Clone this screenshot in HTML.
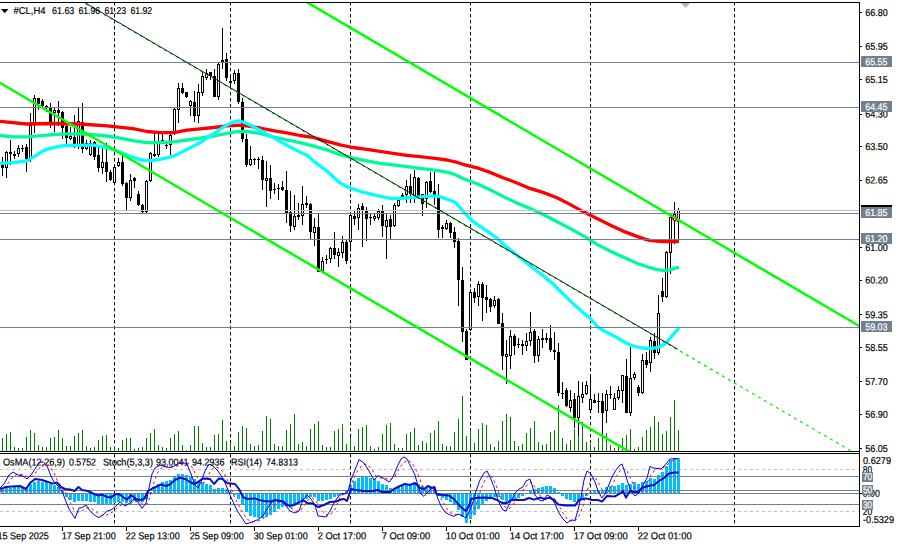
<!DOCTYPE html>
<html><head><meta charset="utf-8"><title>#CL,H4</title>
<style>html,body{margin:0;padding:0;background:#fff;overflow:hidden}svg{display:block}</style>
</head><body>
<svg width="899" height="546" viewBox="0 0 899 546" font-family="Liberation Sans, Arimo, Helvetica, Arial, sans-serif" font-size="10px" stroke-width="0.2">
<rect x="0" y="0" width="899" height="546" fill="#fff"/>
<defs><clipPath id="cm"><rect x="0" y="3" width="859" height="448"/></clipPath><clipPath id="ci"><rect x="0" y="454" width="859" height="72"/></clipPath></defs>
<g clip-path="url(#cm)">
<line x1="114.5" y1="2" x2="114.5" y2="451" stroke="#000" stroke-width="1" stroke-dasharray="3.4 2.6"/>
<line x1="230.5" y1="2" x2="230.5" y2="451" stroke="#000" stroke-width="1" stroke-dasharray="3.4 2.6"/>
<line x1="350.5" y1="2" x2="350.5" y2="451" stroke="#000" stroke-width="1" stroke-dasharray="3.4 2.6"/>
<line x1="470.5" y1="2" x2="470.5" y2="451" stroke="#000" stroke-width="1" stroke-dasharray="3.4 2.6"/>
<line x1="590.5" y1="2" x2="590.5" y2="451" stroke="#000" stroke-width="1" stroke-dasharray="3.4 2.6"/>
<line x1="734.5" y1="2" x2="734.5" y2="451" stroke="#000" stroke-width="1" stroke-dasharray="3.4 2.6"/>
<g shape-rendering="crispEdges" fill="#008000">
<rect x="2" y="438" width="1" height="13"/>
<rect x="6" y="434" width="1" height="17"/>
<rect x="10" y="432" width="1" height="19"/>
<rect x="14" y="447" width="1" height="4"/>
<rect x="18" y="448" width="1" height="3"/>
<rect x="22" y="448" width="1" height="3"/>
<rect x="26" y="437" width="1" height="14"/>
<rect x="30" y="430" width="1" height="21"/>
<rect x="34" y="433" width="1" height="18"/>
<rect x="38" y="445" width="1" height="6"/>
<rect x="42" y="447" width="1" height="4"/>
<rect x="46" y="447" width="1" height="4"/>
<rect x="50" y="438" width="1" height="13"/>
<rect x="54" y="437" width="1" height="14"/>
<rect x="58" y="430" width="1" height="21"/>
<rect x="62" y="438" width="1" height="13"/>
<rect x="66" y="446" width="1" height="5"/>
<rect x="70" y="446" width="1" height="5"/>
<rect x="74" y="436" width="1" height="15"/>
<rect x="78" y="433" width="1" height="18"/>
<rect x="82" y="430" width="1" height="21"/>
<rect x="86" y="446" width="1" height="5"/>
<rect x="90" y="448" width="1" height="3"/>
<rect x="94" y="447" width="1" height="4"/>
<rect x="98" y="440" width="1" height="11"/>
<rect x="102" y="436" width="1" height="15"/>
<rect x="106" y="435" width="1" height="16"/>
<rect x="110" y="447" width="1" height="4"/>
<rect x="114" y="446" width="1" height="5"/>
<rect x="118" y="448" width="1" height="3"/>
<rect x="122" y="440" width="1" height="11"/>
<rect x="126" y="438" width="1" height="13"/>
<rect x="130" y="438" width="1" height="13"/>
<rect x="134" y="449" width="1" height="2"/>
<rect x="138" y="448" width="1" height="3"/>
<rect x="142" y="447" width="1" height="4"/>
<rect x="146" y="438" width="1" height="13"/>
<rect x="150" y="433" width="1" height="18"/>
<rect x="154" y="429" width="1" height="22"/>
<rect x="158" y="445" width="1" height="6"/>
<rect x="162" y="447" width="1" height="4"/>
<rect x="166" y="448" width="1" height="3"/>
<rect x="170" y="438" width="1" height="13"/>
<rect x="174" y="434" width="1" height="17"/>
<rect x="178" y="431" width="1" height="20"/>
<rect x="182" y="445" width="1" height="6"/>
<rect x="186" y="450" width="1" height="1"/>
<rect x="190" y="445" width="1" height="6"/>
<rect x="194" y="426" width="1" height="25"/>
<rect x="198" y="426" width="1" height="25"/>
<rect x="202" y="443" width="1" height="8"/>
<rect x="206" y="447" width="1" height="4"/>
<rect x="210" y="447" width="1" height="4"/>
<rect x="214" y="435" width="1" height="16"/>
<rect x="218" y="434" width="1" height="17"/>
<rect x="222" y="420" width="1" height="31"/>
<rect x="226" y="441" width="1" height="10"/>
<rect x="230" y="443" width="1" height="8"/>
<rect x="234" y="446" width="1" height="5"/>
<rect x="238" y="432" width="1" height="19"/>
<rect x="242" y="426" width="1" height="25"/>
<rect x="246" y="428" width="1" height="23"/>
<rect x="250" y="444" width="1" height="7"/>
<rect x="254" y="446" width="1" height="5"/>
<rect x="258" y="445" width="1" height="6"/>
<rect x="262" y="431" width="1" height="20"/>
<rect x="266" y="416" width="1" height="35"/>
<rect x="270" y="419" width="1" height="32"/>
<rect x="274" y="444" width="1" height="7"/>
<rect x="278" y="446" width="1" height="5"/>
<rect x="282" y="446" width="1" height="5"/>
<rect x="286" y="430" width="1" height="21"/>
<rect x="290" y="424" width="1" height="27"/>
<rect x="294" y="414" width="1" height="37"/>
<rect x="298" y="444" width="1" height="7"/>
<rect x="302" y="442" width="1" height="9"/>
<rect x="306" y="446" width="1" height="5"/>
<rect x="310" y="429" width="1" height="22"/>
<rect x="314" y="424" width="1" height="27"/>
<rect x="318" y="421" width="1" height="30"/>
<rect x="322" y="445" width="1" height="6"/>
<rect x="326" y="447" width="1" height="4"/>
<rect x="330" y="447" width="1" height="4"/>
<rect x="334" y="431" width="1" height="20"/>
<rect x="338" y="429" width="1" height="22"/>
<rect x="342" y="424" width="1" height="27"/>
<rect x="346" y="444" width="1" height="7"/>
<rect x="350" y="437" width="1" height="14"/>
<rect x="354" y="446" width="1" height="5"/>
<rect x="358" y="429" width="1" height="22"/>
<rect x="362" y="427" width="1" height="24"/>
<rect x="366" y="425" width="1" height="26"/>
<rect x="370" y="446" width="1" height="5"/>
<rect x="374" y="449" width="1" height="2"/>
<rect x="378" y="447" width="1" height="4"/>
<rect x="382" y="434" width="1" height="17"/>
<rect x="386" y="425" width="1" height="26"/>
<rect x="390" y="423" width="1" height="28"/>
<rect x="394" y="444" width="1" height="7"/>
<rect x="398" y="448" width="1" height="3"/>
<rect x="402" y="448" width="1" height="3"/>
<rect x="406" y="434" width="1" height="17"/>
<rect x="410" y="432" width="1" height="19"/>
<rect x="414" y="428" width="1" height="23"/>
<rect x="418" y="445" width="1" height="6"/>
<rect x="422" y="441" width="1" height="10"/>
<rect x="426" y="443" width="1" height="8"/>
<rect x="430" y="433" width="1" height="18"/>
<rect x="434" y="430" width="1" height="21"/>
<rect x="438" y="421" width="1" height="30"/>
<rect x="442" y="444" width="1" height="7"/>
<rect x="446" y="446" width="1" height="5"/>
<rect x="450" y="446" width="1" height="5"/>
<rect x="454" y="432" width="1" height="19"/>
<rect x="458" y="419" width="1" height="32"/>
<rect x="462" y="396" width="1" height="55"/>
<rect x="466" y="436" width="1" height="15"/>
<rect x="470" y="430" width="1" height="21"/>
<rect x="474" y="443" width="1" height="8"/>
<rect x="478" y="429" width="1" height="22"/>
<rect x="482" y="423" width="1" height="28"/>
<rect x="486" y="425" width="1" height="26"/>
<rect x="490" y="444" width="1" height="7"/>
<rect x="494" y="447" width="1" height="4"/>
<rect x="498" y="441" width="1" height="10"/>
<rect x="502" y="421" width="1" height="30"/>
<rect x="506" y="414" width="1" height="37"/>
<rect x="510" y="417" width="1" height="34"/>
<rect x="514" y="441" width="1" height="10"/>
<rect x="518" y="446" width="1" height="5"/>
<rect x="522" y="444" width="1" height="7"/>
<rect x="526" y="433" width="1" height="18"/>
<rect x="530" y="428" width="1" height="23"/>
<rect x="534" y="421" width="1" height="30"/>
<rect x="538" y="442" width="1" height="9"/>
<rect x="542" y="445" width="1" height="6"/>
<rect x="546" y="444" width="1" height="7"/>
<rect x="550" y="432" width="1" height="19"/>
<rect x="554" y="430" width="1" height="21"/>
<rect x="558" y="405" width="1" height="46"/>
<rect x="562" y="438" width="1" height="13"/>
<rect x="566" y="444" width="1" height="7"/>
<rect x="570" y="440" width="1" height="11"/>
<rect x="574" y="429" width="1" height="22"/>
<rect x="578" y="421" width="1" height="30"/>
<rect x="582" y="422" width="1" height="29"/>
<rect x="586" y="442" width="1" height="9"/>
<rect x="590" y="444" width="1" height="7"/>
<rect x="594" y="447" width="1" height="4"/>
<rect x="598" y="438" width="1" height="13"/>
<rect x="602" y="425" width="1" height="26"/>
<rect x="606" y="433" width="1" height="18"/>
<rect x="610" y="445" width="1" height="6"/>
<rect x="614" y="448" width="1" height="3"/>
<rect x="618" y="447" width="1" height="4"/>
<rect x="622" y="438" width="1" height="13"/>
<rect x="626" y="435" width="1" height="16"/>
<rect x="630" y="429" width="1" height="22"/>
<rect x="634" y="449" width="1" height="2"/>
<rect x="638" y="447" width="1" height="4"/>
<rect x="642" y="437" width="1" height="14"/>
<rect x="646" y="430" width="1" height="21"/>
<rect x="650" y="427" width="1" height="24"/>
<rect x="654" y="416" width="1" height="35"/>
<rect x="658" y="422" width="1" height="29"/>
<rect x="662" y="434" width="1" height="17"/>
<rect x="666" y="431" width="1" height="20"/>
<rect x="670" y="417" width="1" height="34"/>
<rect x="674" y="400" width="1" height="51"/>
<rect x="678" y="430" width="1" height="21"/>
</g>
<g shape-rendering="crispEdges">
<rect x="2" y="157" width="1" height="19" fill="#000"/>
<rect x="1" y="164" width="3" height="4" fill="#000"/>
<rect x="6" y="151" width="1" height="27" fill="#000"/>
<rect x="5" y="152" width="3" height="16" fill="#000"/>
<rect x="6" y="153" width="1" height="14" fill="#fff"/>
<rect x="10" y="140" width="1" height="25" fill="#000"/>
<rect x="9" y="152" width="3" height="2" fill="#000"/>
<rect x="14" y="151" width="1" height="8" fill="#000"/>
<rect x="13" y="154" width="3" height="2" fill="#000"/>
<rect x="18" y="145" width="1" height="12" fill="#000"/>
<rect x="17" y="148" width="3" height="6" fill="#000"/>
<rect x="18" y="149" width="1" height="4" fill="#fff"/>
<rect x="22" y="145" width="1" height="7" fill="#000"/>
<rect x="21" y="148" width="3" height="1" fill="#000"/>
<rect x="26" y="144" width="1" height="28" fill="#000"/>
<rect x="25" y="147" width="3" height="12" fill="#000"/>
<rect x="30" y="113" width="1" height="49" fill="#000"/>
<rect x="29" y="125" width="3" height="34" fill="#000"/>
<rect x="30" y="126" width="1" height="32" fill="#fff"/>
<rect x="34" y="95" width="1" height="38" fill="#000"/>
<rect x="33" y="98" width="3" height="27" fill="#000"/>
<rect x="34" y="99" width="1" height="25" fill="#fff"/>
<rect x="38" y="98" width="1" height="12" fill="#000"/>
<rect x="37" y="98" width="3" height="6" fill="#000"/>
<rect x="42" y="99" width="1" height="9" fill="#000"/>
<rect x="41" y="101" width="3" height="5" fill="#000"/>
<rect x="46" y="105" width="1" height="7" fill="#000"/>
<rect x="45" y="106" width="3" height="2" fill="#000"/>
<rect x="50" y="103" width="1" height="25" fill="#000"/>
<rect x="49" y="108" width="3" height="14" fill="#000"/>
<rect x="54" y="108" width="1" height="24" fill="#000"/>
<rect x="53" y="110" width="3" height="3" fill="#000"/>
<rect x="54" y="111" width="1" height="1" fill="#fff"/>
<rect x="58" y="101" width="1" height="25" fill="#000"/>
<rect x="57" y="110" width="3" height="3" fill="#000"/>
<rect x="62" y="111" width="1" height="28" fill="#000"/>
<rect x="61" y="112" width="3" height="16" fill="#000"/>
<rect x="66" y="124" width="1" height="20" fill="#000"/>
<rect x="65" y="126" width="3" height="12" fill="#000"/>
<rect x="70" y="127" width="1" height="13" fill="#000"/>
<rect x="69" y="136" width="3" height="3" fill="#000"/>
<rect x="70" y="137" width="1" height="1" fill="#fff"/>
<rect x="74" y="115" width="1" height="33" fill="#000"/>
<rect x="73" y="137" width="3" height="10" fill="#000"/>
<rect x="78" y="108" width="1" height="41" fill="#000"/>
<rect x="77" y="121" width="3" height="26" fill="#000"/>
<rect x="78" y="122" width="1" height="24" fill="#fff"/>
<rect x="82" y="103" width="1" height="50" fill="#000"/>
<rect x="81" y="122" width="3" height="27" fill="#000"/>
<rect x="86" y="140" width="1" height="10" fill="#000"/>
<rect x="85" y="143" width="3" height="6" fill="#000"/>
<rect x="86" y="144" width="1" height="4" fill="#fff"/>
<rect x="90" y="140" width="1" height="16" fill="#000"/>
<rect x="89" y="143" width="3" height="12" fill="#000"/>
<rect x="90" y="144" width="1" height="10" fill="#fff"/>
<rect x="94" y="141" width="1" height="19" fill="#000"/>
<rect x="93" y="142" width="3" height="15" fill="#000"/>
<rect x="98" y="145" width="1" height="27" fill="#000"/>
<rect x="97" y="155" width="3" height="13" fill="#000"/>
<rect x="102" y="148" width="1" height="26" fill="#000"/>
<rect x="101" y="162" width="3" height="6" fill="#000"/>
<rect x="102" y="163" width="1" height="4" fill="#fff"/>
<rect x="106" y="143" width="1" height="39" fill="#000"/>
<rect x="105" y="162" width="3" height="10" fill="#000"/>
<rect x="110" y="170" width="1" height="11" fill="#000"/>
<rect x="109" y="172" width="3" height="8" fill="#000"/>
<rect x="114" y="164" width="1" height="20" fill="#000"/>
<rect x="113" y="167" width="3" height="16" fill="#000"/>
<rect x="114" y="168" width="1" height="14" fill="#fff"/>
<rect x="118" y="158" width="1" height="9" fill="#000"/>
<rect x="117" y="162" width="3" height="4" fill="#000"/>
<rect x="118" y="163" width="1" height="2" fill="#fff"/>
<rect x="122" y="156" width="1" height="30" fill="#000"/>
<rect x="121" y="162" width="3" height="22" fill="#000"/>
<rect x="126" y="182" width="1" height="29" fill="#000"/>
<rect x="125" y="183" width="3" height="15" fill="#000"/>
<rect x="130" y="174" width="1" height="27" fill="#000"/>
<rect x="129" y="180" width="3" height="18" fill="#000"/>
<rect x="130" y="181" width="1" height="16" fill="#fff"/>
<rect x="134" y="177" width="1" height="11" fill="#000"/>
<rect x="133" y="178" width="3" height="3" fill="#000"/>
<rect x="138" y="191" width="1" height="15" fill="#000"/>
<rect x="137" y="194" width="3" height="11" fill="#000"/>
<rect x="142" y="204" width="1" height="9" fill="#000"/>
<rect x="141" y="205" width="3" height="7" fill="#000"/>
<rect x="146" y="180" width="1" height="33" fill="#000"/>
<rect x="145" y="181" width="3" height="31" fill="#000"/>
<rect x="146" y="182" width="1" height="29" fill="#fff"/>
<rect x="150" y="152" width="1" height="30" fill="#000"/>
<rect x="149" y="153" width="3" height="28" fill="#000"/>
<rect x="150" y="154" width="1" height="26" fill="#fff"/>
<rect x="154" y="133" width="1" height="24" fill="#000"/>
<rect x="153" y="154" width="3" height="2" fill="#000"/>
<rect x="158" y="134" width="1" height="23" fill="#000"/>
<rect x="157" y="142" width="3" height="13" fill="#000"/>
<rect x="158" y="143" width="1" height="11" fill="#fff"/>
<rect x="162" y="134" width="1" height="9" fill="#000"/>
<rect x="161" y="140" width="3" height="2" fill="#000"/>
<rect x="166" y="141" width="1" height="8" fill="#000"/>
<rect x="165" y="145" width="3" height="1" fill="#000"/>
<rect x="170" y="134" width="1" height="21" fill="#000"/>
<rect x="169" y="135" width="3" height="10" fill="#000"/>
<rect x="170" y="136" width="1" height="8" fill="#fff"/>
<rect x="174" y="108" width="1" height="27" fill="#000"/>
<rect x="173" y="109" width="3" height="25" fill="#000"/>
<rect x="174" y="110" width="1" height="23" fill="#fff"/>
<rect x="178" y="83" width="1" height="40" fill="#000"/>
<rect x="177" y="88" width="3" height="22" fill="#000"/>
<rect x="178" y="89" width="1" height="20" fill="#fff"/>
<rect x="182" y="83" width="1" height="11" fill="#000"/>
<rect x="181" y="88" width="3" height="5" fill="#000"/>
<rect x="186" y="92" width="1" height="6" fill="#000"/>
<rect x="185" y="92" width="3" height="5" fill="#000"/>
<rect x="190" y="100" width="1" height="16" fill="#000"/>
<rect x="189" y="101" width="3" height="5" fill="#000"/>
<rect x="190" y="102" width="1" height="3" fill="#fff"/>
<rect x="194" y="91" width="1" height="31" fill="#000"/>
<rect x="193" y="102" width="3" height="14" fill="#000"/>
<rect x="198" y="84" width="1" height="39" fill="#000"/>
<rect x="197" y="92" width="3" height="24" fill="#000"/>
<rect x="198" y="93" width="1" height="22" fill="#fff"/>
<rect x="202" y="72" width="1" height="24" fill="#000"/>
<rect x="201" y="76" width="3" height="17" fill="#000"/>
<rect x="202" y="77" width="1" height="15" fill="#fff"/>
<rect x="206" y="69" width="1" height="11" fill="#000"/>
<rect x="205" y="73" width="3" height="5" fill="#000"/>
<rect x="206" y="74" width="1" height="3" fill="#fff"/>
<rect x="210" y="72" width="1" height="8" fill="#000"/>
<rect x="209" y="72" width="3" height="4" fill="#000"/>
<rect x="214" y="69" width="1" height="28" fill="#000"/>
<rect x="213" y="76" width="3" height="21" fill="#000"/>
<rect x="218" y="62" width="1" height="38" fill="#000"/>
<rect x="217" y="64" width="3" height="33" fill="#000"/>
<rect x="218" y="65" width="1" height="31" fill="#fff"/>
<rect x="222" y="28" width="1" height="41" fill="#000"/>
<rect x="221" y="60" width="3" height="2" fill="#000"/>
<rect x="226" y="53" width="1" height="28" fill="#000"/>
<rect x="225" y="59" width="3" height="19" fill="#000"/>
<rect x="230" y="75" width="1" height="11" fill="#000"/>
<rect x="229" y="81" width="3" height="2" fill="#000"/>
<rect x="234" y="70" width="1" height="14" fill="#000"/>
<rect x="233" y="73" width="3" height="8" fill="#000"/>
<rect x="234" y="74" width="1" height="6" fill="#fff"/>
<rect x="238" y="69" width="1" height="35" fill="#000"/>
<rect x="237" y="73" width="3" height="29" fill="#000"/>
<rect x="242" y="98" width="1" height="44" fill="#000"/>
<rect x="241" y="102" width="3" height="37" fill="#000"/>
<rect x="246" y="134" width="1" height="33" fill="#000"/>
<rect x="245" y="139" width="3" height="26" fill="#000"/>
<rect x="250" y="146" width="1" height="20" fill="#000"/>
<rect x="249" y="159" width="3" height="6" fill="#000"/>
<rect x="250" y="160" width="1" height="4" fill="#fff"/>
<rect x="254" y="158" width="1" height="7" fill="#000"/>
<rect x="253" y="159" width="3" height="1" fill="#000"/>
<rect x="258" y="157" width="1" height="12" fill="#000"/>
<rect x="257" y="159" width="3" height="1" fill="#000"/>
<rect x="262" y="156" width="1" height="34" fill="#000"/>
<rect x="261" y="160" width="3" height="20" fill="#000"/>
<rect x="266" y="161" width="1" height="46" fill="#000"/>
<rect x="265" y="178" width="3" height="3" fill="#000"/>
<rect x="266" y="179" width="1" height="1" fill="#fff"/>
<rect x="270" y="165" width="1" height="34" fill="#000"/>
<rect x="269" y="178" width="3" height="13" fill="#000"/>
<rect x="274" y="183" width="1" height="11" fill="#000"/>
<rect x="273" y="189" width="3" height="1" fill="#000"/>
<rect x="278" y="184" width="1" height="16" fill="#000"/>
<rect x="277" y="188" width="3" height="1" fill="#000"/>
<rect x="282" y="181" width="1" height="10" fill="#000"/>
<rect x="281" y="187" width="3" height="3" fill="#000"/>
<rect x="286" y="171" width="1" height="52" fill="#000"/>
<rect x="285" y="190" width="3" height="23" fill="#000"/>
<rect x="290" y="191" width="1" height="41" fill="#000"/>
<rect x="289" y="212" width="3" height="14" fill="#000"/>
<rect x="294" y="195" width="1" height="35" fill="#000"/>
<rect x="293" y="216" width="3" height="11" fill="#000"/>
<rect x="294" y="217" width="1" height="9" fill="#fff"/>
<rect x="298" y="203" width="1" height="17" fill="#000"/>
<rect x="297" y="215" width="3" height="2" fill="#000"/>
<rect x="302" y="186" width="1" height="39" fill="#000"/>
<rect x="301" y="204" width="3" height="12" fill="#000"/>
<rect x="302" y="205" width="1" height="10" fill="#fff"/>
<rect x="306" y="196" width="1" height="12" fill="#000"/>
<rect x="305" y="203" width="3" height="2" fill="#000"/>
<rect x="310" y="203" width="1" height="36" fill="#000"/>
<rect x="309" y="204" width="3" height="28" fill="#000"/>
<rect x="314" y="218" width="1" height="28" fill="#000"/>
<rect x="313" y="227" width="3" height="6" fill="#000"/>
<rect x="314" y="228" width="1" height="4" fill="#fff"/>
<rect x="318" y="213" width="1" height="59" fill="#000"/>
<rect x="317" y="227" width="3" height="45" fill="#000"/>
<rect x="322" y="257" width="1" height="15" fill="#000"/>
<rect x="321" y="261" width="3" height="10" fill="#000"/>
<rect x="322" y="262" width="1" height="8" fill="#fff"/>
<rect x="326" y="255" width="1" height="9" fill="#000"/>
<rect x="325" y="259" width="3" height="1" fill="#000"/>
<rect x="330" y="247" width="1" height="16" fill="#000"/>
<rect x="329" y="248" width="3" height="11" fill="#000"/>
<rect x="330" y="249" width="1" height="9" fill="#fff"/>
<rect x="334" y="232" width="1" height="27" fill="#000"/>
<rect x="333" y="248" width="3" height="7" fill="#000"/>
<rect x="338" y="248" width="1" height="19" fill="#000"/>
<rect x="337" y="252" width="3" height="4" fill="#000"/>
<rect x="338" y="253" width="1" height="2" fill="#fff"/>
<rect x="342" y="236" width="1" height="22" fill="#000"/>
<rect x="341" y="242" width="3" height="11" fill="#000"/>
<rect x="342" y="243" width="1" height="9" fill="#fff"/>
<rect x="346" y="240" width="1" height="24" fill="#000"/>
<rect x="345" y="242" width="3" height="19" fill="#000"/>
<rect x="350" y="212" width="1" height="36" fill="#000"/>
<rect x="349" y="215" width="3" height="27" fill="#000"/>
<rect x="350" y="216" width="1" height="25" fill="#fff"/>
<rect x="354" y="210" width="1" height="15" fill="#000"/>
<rect x="353" y="216" width="3" height="3" fill="#000"/>
<rect x="358" y="204" width="1" height="26" fill="#000"/>
<rect x="357" y="208" width="3" height="10" fill="#000"/>
<rect x="358" y="209" width="1" height="8" fill="#fff"/>
<rect x="362" y="203" width="1" height="44" fill="#000"/>
<rect x="361" y="206" width="3" height="5" fill="#000"/>
<rect x="366" y="207" width="1" height="34" fill="#000"/>
<rect x="365" y="211" width="3" height="8" fill="#000"/>
<rect x="370" y="213" width="1" height="12" fill="#000"/>
<rect x="369" y="217" width="3" height="1" fill="#000"/>
<rect x="374" y="214" width="1" height="7" fill="#000"/>
<rect x="373" y="216" width="3" height="3" fill="#000"/>
<rect x="374" y="217" width="1" height="1" fill="#fff"/>
<rect x="378" y="209" width="1" height="11" fill="#000"/>
<rect x="377" y="211" width="3" height="7" fill="#000"/>
<rect x="378" y="212" width="1" height="5" fill="#fff"/>
<rect x="382" y="205" width="1" height="32" fill="#000"/>
<rect x="381" y="210" width="3" height="16" fill="#000"/>
<rect x="386" y="213" width="1" height="46" fill="#000"/>
<rect x="385" y="220" width="3" height="7" fill="#000"/>
<rect x="386" y="221" width="1" height="5" fill="#fff"/>
<rect x="390" y="215" width="1" height="24" fill="#000"/>
<rect x="389" y="219" width="3" height="8" fill="#000"/>
<rect x="394" y="203" width="1" height="24" fill="#000"/>
<rect x="393" y="205" width="3" height="21" fill="#000"/>
<rect x="394" y="206" width="1" height="19" fill="#fff"/>
<rect x="398" y="199" width="1" height="8" fill="#000"/>
<rect x="397" y="200" width="3" height="6" fill="#000"/>
<rect x="398" y="201" width="1" height="4" fill="#fff"/>
<rect x="402" y="193" width="1" height="4" fill="#000"/>
<rect x="401" y="195" width="3" height="2" fill="#000"/>
<rect x="406" y="180" width="1" height="23" fill="#000"/>
<rect x="405" y="186" width="3" height="9" fill="#000"/>
<rect x="406" y="187" width="1" height="7" fill="#fff"/>
<rect x="410" y="174" width="1" height="29" fill="#000"/>
<rect x="409" y="186" width="3" height="8" fill="#000"/>
<rect x="414" y="170" width="1" height="33" fill="#000"/>
<rect x="413" y="177" width="3" height="19" fill="#000"/>
<rect x="414" y="178" width="1" height="17" fill="#fff"/>
<rect x="418" y="177" width="1" height="19" fill="#000"/>
<rect x="417" y="178" width="3" height="18" fill="#000"/>
<rect x="422" y="194" width="1" height="22" fill="#000"/>
<rect x="421" y="194" width="3" height="10" fill="#000"/>
<rect x="426" y="181" width="1" height="27" fill="#000"/>
<rect x="425" y="182" width="3" height="17" fill="#000"/>
<rect x="426" y="183" width="1" height="15" fill="#fff"/>
<rect x="430" y="172" width="1" height="21" fill="#000"/>
<rect x="429" y="181" width="3" height="11" fill="#000"/>
<rect x="434" y="172" width="1" height="33" fill="#000"/>
<rect x="433" y="191" width="3" height="4" fill="#000"/>
<rect x="438" y="184" width="1" height="54" fill="#000"/>
<rect x="437" y="196" width="3" height="34" fill="#000"/>
<rect x="442" y="225" width="1" height="13" fill="#000"/>
<rect x="441" y="227" width="3" height="2" fill="#000"/>
<rect x="446" y="220" width="1" height="10" fill="#000"/>
<rect x="445" y="223" width="3" height="6" fill="#000"/>
<rect x="446" y="224" width="1" height="4" fill="#fff"/>
<rect x="450" y="222" width="1" height="16" fill="#000"/>
<rect x="449" y="223" width="3" height="10" fill="#000"/>
<rect x="454" y="227" width="1" height="21" fill="#000"/>
<rect x="453" y="232" width="3" height="10" fill="#000"/>
<rect x="458" y="238" width="1" height="68" fill="#000"/>
<rect x="457" y="241" width="3" height="39" fill="#000"/>
<rect x="462" y="267" width="1" height="75" fill="#000"/>
<rect x="461" y="280" width="3" height="52" fill="#000"/>
<rect x="466" y="329" width="1" height="31" fill="#000"/>
<rect x="465" y="331" width="3" height="29" fill="#000"/>
<rect x="470" y="289" width="1" height="42" fill="#000"/>
<rect x="469" y="292" width="3" height="38" fill="#000"/>
<rect x="470" y="293" width="1" height="36" fill="#fff"/>
<rect x="474" y="288" width="1" height="15" fill="#000"/>
<rect x="473" y="292" width="3" height="6" fill="#000"/>
<rect x="478" y="281" width="1" height="25" fill="#000"/>
<rect x="477" y="284" width="3" height="13" fill="#000"/>
<rect x="478" y="285" width="1" height="11" fill="#fff"/>
<rect x="482" y="282" width="1" height="39" fill="#000"/>
<rect x="481" y="284" width="3" height="14" fill="#000"/>
<rect x="486" y="285" width="1" height="28" fill="#000"/>
<rect x="485" y="297" width="3" height="3" fill="#000"/>
<rect x="490" y="298" width="1" height="14" fill="#000"/>
<rect x="489" y="299" width="3" height="8" fill="#000"/>
<rect x="494" y="296" width="1" height="12" fill="#000"/>
<rect x="493" y="300" width="3" height="6" fill="#000"/>
<rect x="494" y="301" width="1" height="4" fill="#fff"/>
<rect x="498" y="298" width="1" height="26" fill="#000"/>
<rect x="497" y="299" width="3" height="25" fill="#000"/>
<rect x="502" y="313" width="1" height="57" fill="#000"/>
<rect x="501" y="323" width="3" height="33" fill="#000"/>
<rect x="506" y="340" width="1" height="44" fill="#000"/>
<rect x="505" y="354" width="3" height="3" fill="#000"/>
<rect x="506" y="355" width="1" height="1" fill="#fff"/>
<rect x="510" y="330" width="1" height="39" fill="#000"/>
<rect x="509" y="336" width="3" height="20" fill="#000"/>
<rect x="510" y="337" width="1" height="18" fill="#fff"/>
<rect x="514" y="334" width="1" height="21" fill="#000"/>
<rect x="513" y="336" width="3" height="10" fill="#000"/>
<rect x="518" y="338" width="1" height="10" fill="#000"/>
<rect x="517" y="344" width="3" height="1" fill="#000"/>
<rect x="522" y="340" width="1" height="15" fill="#000"/>
<rect x="521" y="344" width="3" height="2" fill="#000"/>
<rect x="526" y="333" width="1" height="18" fill="#000"/>
<rect x="525" y="341" width="3" height="5" fill="#000"/>
<rect x="526" y="342" width="1" height="3" fill="#fff"/>
<rect x="530" y="312" width="1" height="34" fill="#000"/>
<rect x="529" y="332" width="3" height="9" fill="#000"/>
<rect x="530" y="333" width="1" height="7" fill="#fff"/>
<rect x="534" y="329" width="1" height="34" fill="#000"/>
<rect x="533" y="331" width="3" height="25" fill="#000"/>
<rect x="538" y="336" width="1" height="26" fill="#000"/>
<rect x="537" y="339" width="3" height="17" fill="#000"/>
<rect x="538" y="340" width="1" height="15" fill="#fff"/>
<rect x="542" y="329" width="1" height="19" fill="#000"/>
<rect x="541" y="338" width="3" height="2" fill="#000"/>
<rect x="546" y="333" width="1" height="10" fill="#000"/>
<rect x="545" y="338" width="3" height="2" fill="#000"/>
<rect x="550" y="325" width="1" height="27" fill="#000"/>
<rect x="549" y="338" width="3" height="12" fill="#000"/>
<rect x="554" y="332" width="1" height="28" fill="#000"/>
<rect x="553" y="350" width="3" height="2" fill="#000"/>
<rect x="558" y="343" width="1" height="53" fill="#000"/>
<rect x="557" y="352" width="3" height="41" fill="#000"/>
<rect x="562" y="382" width="1" height="17" fill="#000"/>
<rect x="561" y="393" width="3" height="1" fill="#000"/>
<rect x="566" y="388" width="1" height="19" fill="#000"/>
<rect x="565" y="390" width="3" height="16" fill="#000"/>
<rect x="570" y="390" width="1" height="22" fill="#000"/>
<rect x="569" y="400" width="3" height="8" fill="#000"/>
<rect x="570" y="401" width="1" height="6" fill="#fff"/>
<rect x="574" y="393" width="1" height="35" fill="#000"/>
<rect x="573" y="399" width="3" height="19" fill="#000"/>
<rect x="578" y="381" width="1" height="55" fill="#000"/>
<rect x="577" y="396" width="3" height="22" fill="#000"/>
<rect x="578" y="397" width="1" height="20" fill="#fff"/>
<rect x="582" y="382" width="1" height="21" fill="#000"/>
<rect x="581" y="394" width="3" height="4" fill="#000"/>
<rect x="582" y="395" width="1" height="2" fill="#fff"/>
<rect x="586" y="381" width="1" height="14" fill="#000"/>
<rect x="585" y="385" width="3" height="9" fill="#000"/>
<rect x="586" y="386" width="1" height="7" fill="#fff"/>
<rect x="590" y="374" width="1" height="38" fill="#000"/>
<rect x="589" y="399" width="3" height="11" fill="#000"/>
<rect x="590" y="400" width="1" height="9" fill="#fff"/>
<rect x="594" y="394" width="1" height="9" fill="#000"/>
<rect x="593" y="400" width="3" height="3" fill="#000"/>
<rect x="598" y="393" width="1" height="20" fill="#000"/>
<rect x="597" y="401" width="3" height="1" fill="#000"/>
<rect x="602" y="393" width="1" height="41" fill="#000"/>
<rect x="601" y="401" width="3" height="12" fill="#000"/>
<rect x="606" y="390" width="1" height="33" fill="#000"/>
<rect x="605" y="394" width="3" height="17" fill="#000"/>
<rect x="606" y="395" width="1" height="15" fill="#fff"/>
<rect x="610" y="386" width="1" height="13" fill="#000"/>
<rect x="609" y="394" width="3" height="1" fill="#000"/>
<rect x="614" y="393" width="1" height="17" fill="#000"/>
<rect x="613" y="398" width="3" height="12" fill="#000"/>
<rect x="614" y="399" width="1" height="10" fill="#fff"/>
<rect x="618" y="386" width="1" height="14" fill="#000"/>
<rect x="617" y="390" width="3" height="8" fill="#000"/>
<rect x="618" y="391" width="1" height="6" fill="#fff"/>
<rect x="622" y="375" width="1" height="28" fill="#000"/>
<rect x="621" y="375" width="3" height="16" fill="#000"/>
<rect x="622" y="376" width="1" height="14" fill="#fff"/>
<rect x="626" y="359" width="1" height="54" fill="#000"/>
<rect x="625" y="376" width="3" height="37" fill="#000"/>
<rect x="630" y="347" width="1" height="69" fill="#000"/>
<rect x="629" y="378" width="3" height="35" fill="#000"/>
<rect x="630" y="379" width="1" height="33" fill="#fff"/>
<rect x="634" y="372" width="1" height="8" fill="#000"/>
<rect x="633" y="374" width="3" height="4" fill="#000"/>
<rect x="634" y="375" width="1" height="2" fill="#fff"/>
<rect x="638" y="385" width="1" height="11" fill="#000"/>
<rect x="637" y="387" width="3" height="6" fill="#000"/>
<rect x="642" y="354" width="1" height="40" fill="#000"/>
<rect x="641" y="360" width="3" height="33" fill="#000"/>
<rect x="642" y="361" width="1" height="31" fill="#fff"/>
<rect x="646" y="352" width="1" height="16" fill="#000"/>
<rect x="645" y="360" width="3" height="5" fill="#000"/>
<rect x="650" y="337" width="1" height="35" fill="#000"/>
<rect x="649" y="340" width="3" height="23" fill="#000"/>
<rect x="650" y="341" width="1" height="21" fill="#fff"/>
<rect x="654" y="333" width="1" height="26" fill="#000"/>
<rect x="653" y="341" width="3" height="12" fill="#000"/>
<rect x="658" y="295" width="1" height="60" fill="#000"/>
<rect x="657" y="313" width="3" height="40" fill="#000"/>
<rect x="658" y="314" width="1" height="38" fill="#fff"/>
<rect x="662" y="278" width="1" height="24" fill="#000"/>
<rect x="661" y="291" width="3" height="6" fill="#000"/>
<rect x="666" y="251" width="1" height="47" fill="#000"/>
<rect x="665" y="252" width="3" height="45" fill="#000"/>
<rect x="666" y="253" width="1" height="43" fill="#fff"/>
<rect x="670" y="216" width="1" height="58" fill="#000"/>
<rect x="669" y="217" width="3" height="36" fill="#000"/>
<rect x="670" y="218" width="1" height="34" fill="#fff"/>
<rect x="674" y="202" width="1" height="42" fill="#000"/>
<rect x="673" y="214" width="3" height="7" fill="#000"/>
<rect x="674" y="215" width="1" height="5" fill="#fff"/>
<rect x="678" y="208" width="1" height="31" fill="#000"/>
<rect x="677" y="210" width="3" height="12" fill="#000"/>
<rect x="678" y="211" width="1" height="10" fill="#fff"/>
</g>
<polyline points="0.0,135.5 13.0,136.8 27.0,136.8 53.0,134.7 67.0,133.9 80.0,133.9 93.0,134.7 107.0,136.0 120.0,138.2 133.0,140.6 147.0,142.7 160.0,142.7 174.0,141.9 187.0,140.0 200.0,138.2 214.0,136.0 227.0,133.4 235.0,131.8 240.0,131.5 247.0,131.5 260.0,133.4 273.0,136.8 287.0,140.0 300.0,142.7 313.0,145.9 327.0,149.9 340.0,154.7 353.0,158.2 367.0,160.9 380.0,163.3 393.0,164.9 407.0,166.7 420.0,168.3 433.0,169.9 447.0,172.1 455.0,174.5 463.0,178.5 477.0,183.8 490.0,189.7 503.0,196.4 517.0,203.1 530.0,208.4 543.0,214.3 557.0,221.7 570.0,228.4 583.0,235.6 590.0,239.9 597.0,244.4 610.0,251.0 623.0,257.0 637.0,263.2 650.0,267.7 657.0,269.6 663.0,270.4 670.0,269.8 679.0,267.2" fill="none" stroke="#00fa9a" stroke-width="3.3" stroke-linejoin="round" stroke-linecap="butt"/>
<polyline points="0.0,121.4 26.7,124.0 53.0,123.5 80.0,124.0 107.0,125.9 133.0,128.6 147.0,131.5 160.0,132.6 174.0,132.6 187.0,130.2 200.0,128.8 214.0,127.5 227.0,125.9 240.0,125.2 247.0,125.9 260.0,128.0 273.0,130.7 287.0,132.8 300.0,135.5 313.0,137.4 327.0,141.4 340.0,144.8 353.0,147.5 367.0,149.4 380.0,151.3 393.0,153.4 407.0,155.3 420.0,156.6 433.0,158.2 447.0,160.0 455.0,161.8 463.0,164.3 477.0,167.8 490.0,172.4 503.0,177.7 517.0,183.0 530.0,188.4 543.0,192.4 557.0,197.7 570.0,204.4 583.0,211.6 597.0,218.5 610.0,224.9 623.0,231.1 637.0,236.4 645.0,239.1 650.0,240.4 657.0,241.2 663.0,241.5 679.0,241.5" fill="none" stroke="#ff0000" stroke-width="3.3" stroke-linejoin="round" stroke-linecap="butt"/>
<polyline points="0.0,163.3 13.0,162.7 27.0,160.9 35.0,156.2 43.0,151.0 47.0,149.4 53.0,147.6 62.0,145.8 67.0,145.5 80.0,145.4 93.0,144.8 107.0,148.0 120.0,152.0 133.0,157.4 144.0,160.6 152.0,160.6 160.0,159.3 174.0,156.0 187.0,149.4 200.0,142.7 214.0,133.4 222.0,128.0 228.0,124.6 234.0,121.8 239.0,120.8 247.0,123.5 260.0,130.2 273.0,137.4 287.0,145.4 300.0,152.1 307.0,155.3 313.0,160.6 327.0,171.3 340.0,183.0 349.0,187.6 360.0,191.3 371.0,194.1 380.5,196.4 390.0,198.3 399.0,198.5 410.0,197.6 421.0,196.8 432.0,195.8 440.0,196.7 449.0,199.8 455.0,202.2 460.0,207.6 464.6,213.1 470.8,219.3 477.0,224.4 483.0,228.4 490.0,233.0 497.0,238.2 503.0,243.8 510.0,249.6 517.0,255.3 530.0,265.5 543.0,275.6 554.0,284.6 557.0,288.0 570.0,300.6 583.0,312.6 590.0,318.0 597.0,326.3 603.0,330.4 610.0,334.0 617.0,337.6 625.0,342.6 633.0,346.0 642.0,348.0 650.0,348.5 658.0,347.6 663.0,345.1 667.0,341.8 672.0,335.9 679.0,328.0" fill="none" stroke="#00ffff" stroke-width="3.3" stroke-linejoin="round" stroke-linecap="butt"/>
<g shape-rendering="crispEdges">
<rect x="0" y="210" width="860" height="1" fill="#c0c0c0"/>
<rect x="0" y="62" width="860" height="1" fill="#708090"/>
<rect x="0" y="107" width="860" height="1" fill="#708090"/>
<rect x="0" y="213" width="860" height="1" fill="#708090"/>
<rect x="0" y="239" width="860" height="1" fill="#708090"/>
<rect x="0" y="327" width="860" height="1" fill="#708090"/>
</g>
<line x1="300" y1="-1.81" x2="862" y2="327.64" stroke="#00ff00" stroke-width="2.5"/>
<line x1="-5" y1="79.91" x2="640" y2="458.01" stroke="#00ff00" stroke-width="2.5"/>
<line x1="80" y1="0.39" x2="860" y2="456.30" stroke="#00ee00" stroke-width="1.25" stroke-dasharray="3 3.95"/>
<line x1="80" y1="-0.11" x2="677.8" y2="349.30" stroke="#000" stroke-width="0.9"/>
<path d="M671.5 214.5 L673 220.5 L676 221.2 L677.5 215" fill="none" stroke="#ff2020" stroke-width="1"/>
</g>
<g shape-rendering="crispEdges" fill="#000">
<rect x="0" y="2" width="860" height="1"/>
<rect x="859" y="2" width="1" height="525"/>
<rect x="0" y="451" width="860" height="1"/>
<rect x="0" y="453" width="860" height="1"/>
<rect x="0" y="526" width="860" height="1"/>
</g>
<path d="M681 3 L690 3 L685.5 8 Z" fill="#b4b4b4"/>
<path d="M1 9 L8.4 9 L4.7 13.2 Z" fill="#000"/>
<text x="13.6" y="14" transform="rotate(0.05 13.6 14)" textLength="31.8" lengthAdjust="spacingAndGlyphs" fill="#000" stroke="#000">#CL,H4</text>
<text x="52" y="14" transform="rotate(0.05 52 14)" textLength="22.3" lengthAdjust="spacingAndGlyphs" fill="#000" stroke="#000">61.63</text>
<text x="78.4" y="14" transform="rotate(0.05 78.4 14)" textLength="21.8" lengthAdjust="spacingAndGlyphs" fill="#000" stroke="#000">61.96</text>
<text x="104.5" y="14" transform="rotate(0.05 104.5 14)" textLength="21.7" lengthAdjust="spacingAndGlyphs" fill="#000" stroke="#000">61.23</text>
<text x="130.4" y="14" transform="rotate(0.05 130.4 14)" textLength="21.8" lengthAdjust="spacingAndGlyphs" fill="#000" stroke="#000">61.92</text>
<g shape-rendering="crispEdges" fill="#000">
<rect x="860" y="12" width="2" height="1"/>
<rect x="860" y="46" width="2" height="1"/>
<rect x="860" y="79" width="2" height="1"/>
<rect x="860" y="114" width="2" height="1"/>
<rect x="860" y="146" width="2" height="1"/>
<rect x="860" y="180" width="2" height="1"/>
<rect x="860" y="247" width="2" height="1"/>
<rect x="860" y="280" width="2" height="1"/>
<rect x="860" y="314" width="2" height="1"/>
<rect x="860" y="347" width="2" height="1"/>
<rect x="860" y="381" width="2" height="1"/>
<rect x="860" y="414" width="2" height="1"/>
<rect x="860" y="448" width="2" height="1"/>
</g>
<text x="865.2" y="16.0" transform="rotate(0.05 865.2 16.0)" textLength="22.6" lengthAdjust="spacingAndGlyphs" fill="#000" stroke="#000">66.80</text>
<text x="865.2" y="49.8" transform="rotate(0.05 865.2 49.8)" textLength="22.6" lengthAdjust="spacingAndGlyphs" fill="#000" stroke="#000">65.95</text>
<text x="865.2" y="83.0" transform="rotate(0.05 865.2 83.0)" textLength="22.6" lengthAdjust="spacingAndGlyphs" fill="#000" stroke="#000">65.15</text>
<text x="865.2" y="117.6" transform="rotate(0.05 865.2 117.6)" textLength="22.6" lengthAdjust="spacingAndGlyphs" fill="#000" stroke="#000">64.30</text>
<text x="865.2" y="150.1" transform="rotate(0.05 865.2 150.1)" textLength="22.6" lengthAdjust="spacingAndGlyphs" fill="#000" stroke="#000">63.50</text>
<text x="865.2" y="183.5" transform="rotate(0.05 865.2 183.5)" textLength="22.6" lengthAdjust="spacingAndGlyphs" fill="#000" stroke="#000">62.65</text>
<text x="865.2" y="250.9" transform="rotate(0.05 865.2 250.9)" textLength="22.6" lengthAdjust="spacingAndGlyphs" fill="#000" stroke="#000">61.00</text>
<text x="865.2" y="283.5" transform="rotate(0.05 865.2 283.5)" textLength="22.6" lengthAdjust="spacingAndGlyphs" fill="#000" stroke="#000">60.20</text>
<text x="865.2" y="318.2" transform="rotate(0.05 865.2 318.2)" textLength="22.6" lengthAdjust="spacingAndGlyphs" fill="#000" stroke="#000">59.35</text>
<text x="865.2" y="351.1" transform="rotate(0.05 865.2 351.1)" textLength="22.6" lengthAdjust="spacingAndGlyphs" fill="#000" stroke="#000">58.55</text>
<text x="865.2" y="384.9" transform="rotate(0.05 865.2 384.9)" textLength="22.6" lengthAdjust="spacingAndGlyphs" fill="#000" stroke="#000">57.70</text>
<text x="865.2" y="417.7" transform="rotate(0.05 865.2 417.7)" textLength="22.6" lengthAdjust="spacingAndGlyphs" fill="#000" stroke="#000">56.90</text>
<text x="865.2" y="451.9" transform="rotate(0.05 865.2 451.9)" textLength="22.6" lengthAdjust="spacingAndGlyphs" fill="#000" stroke="#000">56.05</text>
<rect x="861" y="205" width="31" height="6" fill="#000"/>
<rect x="861" y="56" width="31" height="11" fill="#708090" shape-rendering="crispEdges"/>
<text x="865.2" y="65.3" transform="rotate(0.05 865.2 65.3)" textLength="22.3" lengthAdjust="spacingAndGlyphs" fill="#fff" stroke="#fff">65.55</text>
<rect x="861" y="101" width="31" height="11" fill="#708090" shape-rendering="crispEdges"/>
<text x="865.2" y="110.3" transform="rotate(0.05 865.2 110.3)" textLength="22.3" lengthAdjust="spacingAndGlyphs" fill="#fff" stroke="#fff">64.45</text>
<rect x="861" y="207" width="31" height="11" fill="#708090" shape-rendering="crispEdges"/>
<text x="865.2" y="216.10000000000002" transform="rotate(0.05 865.2 216.10000000000002)" textLength="22.3" lengthAdjust="spacingAndGlyphs" fill="#fff" stroke="#fff">61.85</text>
<rect x="861" y="233" width="31" height="11" fill="#708090" shape-rendering="crispEdges"/>
<text x="865.2" y="242.10000000000002" transform="rotate(0.05 865.2 242.10000000000002)" textLength="22.3" lengthAdjust="spacingAndGlyphs" fill="#fff" stroke="#fff">61.20</text>
<rect x="861" y="321" width="31" height="11" fill="#708090" shape-rendering="crispEdges"/>
<text x="865.2" y="330.3" transform="rotate(0.05 865.2 330.3)" textLength="22.3" lengthAdjust="spacingAndGlyphs" fill="#fff" stroke="#fff">59.03</text>
<text x="3" y="465.5" transform="rotate(0.05 3 465.5)" textLength="62" lengthAdjust="spacingAndGlyphs" fill="#000" stroke="#000">OsMA(12,26,9)</text>
<text x="69" y="465.5" transform="rotate(0.05 69 465.5)" textLength="27" lengthAdjust="spacingAndGlyphs" fill="#000" stroke="#000">0.5752</text>
<text x="103" y="465.5" transform="rotate(0.05 103 465.5)" textLength="50" lengthAdjust="spacingAndGlyphs" fill="#000" stroke="#000">Stoch(5,3,3)</text>
<text x="156" y="465.5" transform="rotate(0.05 156 465.5)" textLength="32.5" lengthAdjust="spacingAndGlyphs" fill="#000" stroke="#000">93.0041</text>
<text x="192" y="465.5" transform="rotate(0.05 192 465.5)" textLength="32.5" lengthAdjust="spacingAndGlyphs" fill="#000" stroke="#000">94.2936</text>
<text x="231" y="465.5" transform="rotate(0.05 231 465.5)" textLength="31" lengthAdjust="spacingAndGlyphs" fill="#000" stroke="#000">RSI(14)</text>
<text x="266" y="465.5" transform="rotate(0.05 266 465.5)" textLength="32" lengthAdjust="spacingAndGlyphs" fill="#000" stroke="#000">74.8313</text>
<g clip-path="url(#ci)">
<line x1="114.5" y1="454" x2="114.5" y2="526" stroke="#000" stroke-width="1" stroke-dasharray="3.4 2.6"/>
<line x1="230.5" y1="454" x2="230.5" y2="526" stroke="#000" stroke-width="1" stroke-dasharray="3.4 2.6"/>
<line x1="350.5" y1="454" x2="350.5" y2="526" stroke="#000" stroke-width="1" stroke-dasharray="3.4 2.6"/>
<line x1="470.5" y1="454" x2="470.5" y2="526" stroke="#000" stroke-width="1" stroke-dasharray="3.4 2.6"/>
<line x1="590.5" y1="454" x2="590.5" y2="526" stroke="#000" stroke-width="1" stroke-dasharray="3.4 2.6"/>
<line x1="734.5" y1="454" x2="734.5" y2="526" stroke="#000" stroke-width="1" stroke-dasharray="3.4 2.6"/>
<g shape-rendering="crispEdges">
<line x1="0" y1="469.5" x2="860" y2="469.5" stroke="#c0c0c0" stroke-width="1" stroke-dasharray="3 3"/>
<line x1="0" y1="511.5" x2="860" y2="511.5" stroke="#c0c0c0" stroke-width="1" stroke-dasharray="3 3"/>
<rect x="1" y="489.0" width="3" height="4.4" fill="#00bfff"/>
<rect x="5" y="488.0" width="3" height="5.4" fill="#00bfff"/>
<rect x="9" y="487.6" width="3" height="5.8" fill="#00bfff"/>
<rect x="13" y="487.0" width="3" height="6.4" fill="#00bfff"/>
<rect x="17" y="486.4" width="3" height="7.0" fill="#00bfff"/>
<rect x="21" y="487.0" width="3" height="6.4" fill="#00bfff"/>
<rect x="25" y="487.0" width="3" height="6.4" fill="#00bfff"/>
<rect x="29" y="484.0" width="3" height="9.4" fill="#00bfff"/>
<rect x="33" y="481.6" width="3" height="11.8" fill="#00bfff"/>
<rect x="37" y="481.0" width="3" height="12.4" fill="#00bfff"/>
<rect x="41" y="481.6" width="3" height="11.8" fill="#00bfff"/>
<rect x="45" y="482.4" width="3" height="11.0" fill="#00bfff"/>
<rect x="49" y="484.0" width="3" height="9.4" fill="#00bfff"/>
<rect x="53" y="485.0" width="3" height="8.4" fill="#00bfff"/>
<rect x="57" y="487.0" width="3" height="6.4" fill="#00bfff"/>
<rect x="61" y="490.0" width="3" height="3.4" fill="#00bfff"/>
<rect x="65" y="493.4" width="3" height="3.6" fill="#00bfff"/>
<rect x="69" y="493.4" width="3" height="6.6" fill="#00bfff"/>
<rect x="73" y="493.4" width="3" height="8.2" fill="#00bfff"/>
<rect x="77" y="493.4" width="3" height="7.6" fill="#00bfff"/>
<rect x="81" y="493.4" width="3" height="7.6" fill="#00bfff"/>
<rect x="85" y="493.4" width="3" height="7.6" fill="#00bfff"/>
<rect x="89" y="493.4" width="3" height="8.2" fill="#00bfff"/>
<rect x="93" y="493.4" width="3" height="9.0" fill="#00bfff"/>
<rect x="97" y="493.4" width="3" height="10.2" fill="#00bfff"/>
<rect x="101" y="493.4" width="3" height="10.6" fill="#00bfff"/>
<rect x="105" y="493.4" width="3" height="10.6" fill="#00bfff"/>
<rect x="109" y="493.4" width="3" height="10.2" fill="#00bfff"/>
<rect x="113" y="493.4" width="3" height="9.6" fill="#00bfff"/>
<rect x="117" y="493.4" width="3" height="8.6" fill="#00bfff"/>
<rect x="121" y="493.4" width="3" height="9.0" fill="#00bfff"/>
<rect x="125" y="493.4" width="3" height="9.6" fill="#00bfff"/>
<rect x="129" y="493.4" width="3" height="8.6" fill="#00bfff"/>
<rect x="133" y="493.4" width="3" height="7.6" fill="#00bfff"/>
<rect x="137" y="493.4" width="3" height="8.2" fill="#00bfff"/>
<rect x="141" y="493.4" width="3" height="8.2" fill="#00bfff"/>
<rect x="145" y="493.4" width="3" height="5.6" fill="#00bfff"/>
<rect x="149" y="492.0" width="3" height="1.4" fill="#00bfff"/>
<rect x="153" y="488.0" width="3" height="5.4" fill="#00bfff"/>
<rect x="157" y="484.0" width="3" height="9.4" fill="#00bfff"/>
<rect x="161" y="481.6" width="3" height="11.8" fill="#00bfff"/>
<rect x="165" y="481.0" width="3" height="12.4" fill="#00bfff"/>
<rect x="169" y="480.0" width="3" height="13.4" fill="#00bfff"/>
<rect x="173" y="477.0" width="3" height="16.4" fill="#00bfff"/>
<rect x="177" y="474.4" width="3" height="19.0" fill="#00bfff"/>
<rect x="181" y="474.0" width="3" height="19.4" fill="#00bfff"/>
<rect x="185" y="475.0" width="3" height="18.4" fill="#00bfff"/>
<rect x="189" y="477.0" width="3" height="16.4" fill="#00bfff"/>
<rect x="193" y="479.0" width="3" height="14.4" fill="#00bfff"/>
<rect x="197" y="481.0" width="3" height="12.4" fill="#00bfff"/>
<rect x="201" y="482.0" width="3" height="11.4" fill="#00bfff"/>
<rect x="205" y="484.0" width="3" height="9.4" fill="#00bfff"/>
<rect x="209" y="485.0" width="3" height="8.4" fill="#00bfff"/>
<rect x="213" y="489.0" width="3" height="4.4" fill="#00bfff"/>
<rect x="217" y="488.4" width="3" height="5.0" fill="#00bfff"/>
<rect x="221" y="488.0" width="3" height="5.4" fill="#00bfff"/>
<rect x="225" y="489.0" width="3" height="4.4" fill="#00bfff"/>
<rect x="229" y="492.0" width="3" height="1.4" fill="#00bfff"/>
<rect x="233" y="493.4" width="3" height="1.6" fill="#00bfff"/>
<rect x="237" y="493.4" width="3" height="5.6" fill="#00bfff"/>
<rect x="241" y="493.4" width="3" height="11.6" fill="#00bfff"/>
<rect x="245" y="493.4" width="3" height="18.6" fill="#00bfff"/>
<rect x="249" y="493.4" width="3" height="22.2" fill="#00bfff"/>
<rect x="253" y="493.4" width="3" height="23.6" fill="#00bfff"/>
<rect x="257" y="493.4" width="3" height="24.2" fill="#00bfff"/>
<rect x="261" y="493.4" width="3" height="25.0" fill="#00bfff"/>
<rect x="265" y="493.4" width="3" height="23.6" fill="#00bfff"/>
<rect x="269" y="493.4" width="3" height="21.6" fill="#00bfff"/>
<rect x="273" y="493.4" width="3" height="18.6" fill="#00bfff"/>
<rect x="277" y="493.4" width="3" height="15.6" fill="#00bfff"/>
<rect x="281" y="493.4" width="3" height="13.6" fill="#00bfff"/>
<rect x="285" y="493.4" width="3" height="13.0" fill="#00bfff"/>
<rect x="289" y="493.4" width="3" height="14.2" fill="#00bfff"/>
<rect x="293" y="493.4" width="3" height="12.6" fill="#00bfff"/>
<rect x="297" y="493.4" width="3" height="10.6" fill="#00bfff"/>
<rect x="301" y="493.4" width="3" height="8.6" fill="#00bfff"/>
<rect x="305" y="493.4" width="3" height="5.6" fill="#00bfff"/>
<rect x="309" y="493.4" width="3" height="3.6" fill="#00bfff"/>
<rect x="313" y="493.4" width="3" height="3.6" fill="#00bfff"/>
<rect x="317" y="493.4" width="3" height="7.6" fill="#00bfff"/>
<rect x="321" y="493.4" width="3" height="7.6" fill="#00bfff"/>
<rect x="325" y="493.4" width="3" height="6.6" fill="#00bfff"/>
<rect x="329" y="493.4" width="3" height="5.6" fill="#00bfff"/>
<rect x="333" y="493.4" width="3" height="3.6" fill="#00bfff"/>
<rect x="337" y="493.4" width="3" height="2.6" fill="#00bfff"/>
<rect x="341" y="493.4" width="3" height="1.6" fill="#00bfff"/>
<rect x="345" y="491.0" width="3" height="2.4" fill="#00bfff"/>
<rect x="349" y="485.0" width="3" height="8.4" fill="#00bfff"/>
<rect x="353" y="481.0" width="3" height="12.4" fill="#00bfff"/>
<rect x="357" y="478.0" width="3" height="15.4" fill="#00bfff"/>
<rect x="361" y="477.0" width="3" height="16.4" fill="#00bfff"/>
<rect x="365" y="477.0" width="3" height="16.4" fill="#00bfff"/>
<rect x="369" y="477.6" width="3" height="15.8" fill="#00bfff"/>
<rect x="373" y="479.0" width="3" height="14.4" fill="#00bfff"/>
<rect x="377" y="481.0" width="3" height="12.4" fill="#00bfff"/>
<rect x="381" y="484.0" width="3" height="9.4" fill="#00bfff"/>
<rect x="385" y="485.0" width="3" height="8.4" fill="#00bfff"/>
<rect x="389" y="487.6" width="3" height="5.8" fill="#00bfff"/>
<rect x="393" y="488.0" width="3" height="5.4" fill="#00bfff"/>
<rect x="397" y="487.0" width="3" height="6.4" fill="#00bfff"/>
<rect x="401" y="486.0" width="3" height="7.4" fill="#00bfff"/>
<rect x="405" y="485.0" width="3" height="8.4" fill="#00bfff"/>
<rect x="409" y="484.0" width="3" height="9.4" fill="#00bfff"/>
<rect x="413" y="483.0" width="3" height="10.4" fill="#00bfff"/>
<rect x="417" y="484.0" width="3" height="9.4" fill="#00bfff"/>
<rect x="421" y="486.0" width="3" height="7.4" fill="#00bfff"/>
<rect x="425" y="487.0" width="3" height="6.4" fill="#00bfff"/>
<rect x="429" y="487.6" width="3" height="5.8" fill="#00bfff"/>
<rect x="433" y="489.0" width="3" height="4.4" fill="#00bfff"/>
<rect x="437" y="493.4" width="3" height="3.0" fill="#00bfff"/>
<rect x="441" y="493.4" width="3" height="5.0" fill="#00bfff"/>
<rect x="445" y="493.4" width="3" height="7.0" fill="#00bfff"/>
<rect x="449" y="493.4" width="3" height="8.6" fill="#00bfff"/>
<rect x="453" y="493.4" width="3" height="11.6" fill="#00bfff"/>
<rect x="457" y="493.4" width="3" height="16.6" fill="#00bfff"/>
<rect x="461" y="493.4" width="3" height="23.6" fill="#00bfff"/>
<rect x="465" y="493.4" width="3" height="29.6" fill="#00bfff"/>
<rect x="469" y="493.4" width="3" height="25.6" fill="#00bfff"/>
<rect x="473" y="493.4" width="3" height="21.6" fill="#00bfff"/>
<rect x="477" y="493.4" width="3" height="15.6" fill="#00bfff"/>
<rect x="481" y="493.4" width="3" height="11.6" fill="#00bfff"/>
<rect x="485" y="493.4" width="3" height="7.6" fill="#00bfff"/>
<rect x="489" y="493.4" width="3" height="5.6" fill="#00bfff"/>
<rect x="493" y="493.4" width="3" height="3.6" fill="#00bfff"/>
<rect x="497" y="493.4" width="3" height="3.6" fill="#00bfff"/>
<rect x="501" y="493.4" width="3" height="6.6" fill="#00bfff"/>
<rect x="505" y="493.4" width="3" height="8.6" fill="#00bfff"/>
<rect x="509" y="493.4" width="3" height="7.6" fill="#00bfff"/>
<rect x="513" y="493.4" width="3" height="6.6" fill="#00bfff"/>
<rect x="517" y="493.4" width="3" height="4.6" fill="#00bfff"/>
<rect x="521" y="493.4" width="3" height="2.6" fill="#00bfff"/>
<rect x="525" y="493.4" width="3" height="0.5" fill="#00bfff"/>
<rect x="529" y="491.0" width="3" height="2.4" fill="#00bfff"/>
<rect x="533" y="489.0" width="3" height="4.4" fill="#00bfff"/>
<rect x="537" y="488.0" width="3" height="5.4" fill="#00bfff"/>
<rect x="541" y="487.0" width="3" height="6.4" fill="#00bfff"/>
<rect x="545" y="486.0" width="3" height="7.4" fill="#00bfff"/>
<rect x="549" y="486.0" width="3" height="7.4" fill="#00bfff"/>
<rect x="553" y="487.6" width="3" height="5.8" fill="#00bfff"/>
<rect x="557" y="492.0" width="3" height="1.4" fill="#00bfff"/>
<rect x="561" y="493.4" width="3" height="2.6" fill="#00bfff"/>
<rect x="565" y="493.4" width="3" height="5.6" fill="#00bfff"/>
<rect x="569" y="493.4" width="3" height="6.6" fill="#00bfff"/>
<rect x="573" y="493.4" width="3" height="8.2" fill="#00bfff"/>
<rect x="577" y="493.4" width="3" height="7.6" fill="#00bfff"/>
<rect x="581" y="493.4" width="3" height="5.6" fill="#00bfff"/>
<rect x="585" y="493.4" width="3" height="2.6" fill="#00bfff"/>
<rect x="589" y="492.0" width="3" height="1.4" fill="#00bfff"/>
<rect x="593" y="491.0" width="3" height="2.4" fill="#00bfff"/>
<rect x="597" y="490.0" width="3" height="3.4" fill="#00bfff"/>
<rect x="601" y="490.4" width="3" height="3.0" fill="#00bfff"/>
<rect x="605" y="487.0" width="3" height="6.4" fill="#00bfff"/>
<rect x="609" y="485.6" width="3" height="7.8" fill="#00bfff"/>
<rect x="613" y="486.0" width="3" height="7.4" fill="#00bfff"/>
<rect x="617" y="485.0" width="3" height="8.4" fill="#00bfff"/>
<rect x="621" y="483.0" width="3" height="10.4" fill="#00bfff"/>
<rect x="625" y="485.0" width="3" height="8.4" fill="#00bfff"/>
<rect x="629" y="484.0" width="3" height="9.4" fill="#00bfff"/>
<rect x="633" y="482.0" width="3" height="11.4" fill="#00bfff"/>
<rect x="637" y="484.0" width="3" height="9.4" fill="#00bfff"/>
<rect x="641" y="481.6" width="3" height="11.8" fill="#00bfff"/>
<rect x="645" y="481.0" width="3" height="12.4" fill="#00bfff"/>
<rect x="649" y="478.0" width="3" height="15.4" fill="#00bfff"/>
<rect x="653" y="479.0" width="3" height="14.4" fill="#00bfff"/>
<rect x="657" y="475.0" width="3" height="18.4" fill="#00bfff"/>
<rect x="661" y="471.6" width="3" height="21.8" fill="#00bfff"/>
<rect x="665" y="466.0" width="3" height="27.4" fill="#00bfff"/>
<rect x="669" y="460.0" width="3" height="33.4" fill="#00bfff"/>
<rect x="673" y="458.4" width="3" height="35.0" fill="#00bfff"/>
<rect x="677" y="458.0" width="3" height="35.4" fill="#00bfff"/>
<rect x="0" y="476" width="860" height="1" fill="#708090"/>
<rect x="0" y="490" width="860" height="1" fill="#708090"/>
<rect x="0" y="493" width="860" height="1" fill="#708090"/>
<rect x="0" y="504" width="860" height="1" fill="#708090"/>
</g>
<polyline points="0.0,492.0 6.0,486.0 12.0,478.0 17.0,474.0 22.0,474.4 28.0,477.0 33.0,476.0 37.0,471.0 41.0,466.0 46.0,463.6 50.0,466.0 54.0,473.0 58.0,482.0 62.0,488.0 66.0,493.0 70.0,502.0 74.0,510.0 78.0,512.0 82.0,511.0 86.0,508.0 90.0,507.6 95.0,511.0 100.0,515.0 104.0,516.0 109.0,514.0 114.0,511.0 119.0,506.0 124.0,504.0 129.0,504.4 133.0,502.0 138.0,501.0 143.0,504.0 147.0,504.0 150.0,497.0 154.0,482.0 158.0,472.0 163.0,466.4 169.0,466.4 174.0,467.0 176.0,466.4 182.0,464.0 188.0,463.0 192.0,467.0 196.0,475.0 200.0,483.0 203.0,484.0 207.0,478.0 211.0,470.0 215.0,467.0 219.0,468.0 223.0,472.0 227.0,479.0 231.0,488.0 235.0,498.0 239.0,506.0 243.0,513.0 247.0,519.0 252.0,522.0 258.0,521.0 264.0,518.0 268.0,513.0 272.0,507.0 277.0,502.0 283.0,501.0 287.0,503.0 291.0,508.0 296.0,511.0 300.0,511.0 304.0,506.0 308.0,500.0 312.0,497.6 316.0,501.0 320.0,508.0 324.0,513.0 328.0,516.0 332.0,513.0 336.0,508.0 340.0,497.0 345.0,493.0 349.0,490.0 353.0,480.0 357.0,472.0 362.0,465.0 367.0,464.0 372.0,470.0 376.0,476.0 380.0,478.0 385.0,478.0 390.0,480.0 395.0,476.0 399.0,469.0 403.0,463.0 408.0,460.0 412.0,463.0 416.0,470.0 420.0,479.0 423.0,488.0 427.0,493.6 431.0,493.0 435.0,491.0 439.0,495.0 443.0,502.0 447.0,509.0 451.0,513.0 456.0,514.4 461.0,515.0 466.0,515.6 471.0,514.0 475.0,508.0 478.0,499.0 481.0,489.0 485.0,480.0 489.0,475.0 493.0,478.0 497.0,488.0 501.0,499.0 505.0,507.0 509.0,509.0 513.0,505.0 517.0,498.0 519.0,494.0 523.0,490.0 527.0,485.0 531.0,482.0 535.0,487.0 539.0,494.0 543.0,499.0 547.0,499.0 551.0,497.0 555.0,499.0 559.0,506.0 563.0,513.0 567.0,519.0 571.0,521.0 575.0,521.0 579.0,516.0 583.0,506.0 587.0,491.0 591.0,480.0 595.0,477.0 599.0,484.0 603.0,491.0 607.0,494.0 611.0,488.0 615.0,479.0 619.0,472.0 623.0,468.0 627.0,471.0 631.0,479.0 635.0,489.0 639.0,493.0 643.0,490.0 647.0,483.0 651.0,475.0 655.0,470.0 659.0,468.0 663.0,468.0 667.0,465.0 672.0,461.0 678.0,459.0" fill="none" stroke="#ff0000" stroke-width="1" stroke-dasharray="2.6 3"/>
<polyline points="0.0,488.0 4.0,484.0 9.0,475.0 13.0,472.0 18.0,475.0 23.0,476.0 27.0,479.0 31.0,475.0 35.0,469.0 39.0,463.0 43.0,461.6 47.0,466.0 51.0,476.0 54.0,482.0 58.0,486.0 62.0,491.0 65.0,499.0 69.0,509.0 75.0,518.5 79.0,508.0 82.0,507.6 86.0,505.0 90.0,511.0 95.0,515.6 99.0,517.6 103.0,515.0 107.0,511.0 111.0,510.0 115.0,507.0 120.0,502.0 125.0,506.0 130.0,503.0 134.0,499.0 138.0,502.0 142.0,508.4 146.0,503.0 149.0,488.0 152.0,474.0 155.0,468.0 160.0,465.0 166.0,467.0 171.0,467.5 176.0,465.0 182.0,462.0 187.0,464.0 191.0,474.0 195.0,485.0 198.0,488.0 201.0,482.0 205.0,471.0 209.0,464.0 213.0,466.0 218.0,471.0 222.0,477.0 226.0,485.0 230.0,495.0 234.0,504.0 238.0,512.0 242.0,518.0 246.0,524.0 252.0,522.0 258.0,519.6 263.0,516.0 267.0,509.0 271.0,503.0 276.0,500.0 282.0,501.0 286.0,506.0 290.0,511.0 295.0,513.0 299.0,511.0 303.0,500.0 307.0,495.0 311.0,499.0 315.0,505.0 318.0,516.0 322.0,516.4 326.0,517.0 330.0,511.0 334.0,503.0 338.0,497.0 342.0,493.5 346.0,494.0 348.0,491.0 351.0,480.0 355.0,470.0 359.0,459.6 364.0,463.0 369.0,471.0 374.0,480.0 378.0,475.6 383.0,478.0 389.0,482.0 393.0,477.0 397.0,467.0 401.0,459.0 404.0,457.0 407.0,459.0 411.0,467.0 415.0,475.0 418.0,486.0 421.0,494.0 424.0,496.4 428.0,492.0 432.0,488.0 435.0,490.0 438.0,499.0 441.0,506.0 445.0,512.0 449.0,514.4 454.0,516.4 458.0,514.0 462.0,515.6 466.0,518.0 470.0,510.0 473.0,502.0 476.0,491.0 480.0,480.0 484.0,473.0 487.0,471.0 490.0,477.0 494.0,487.0 497.0,497.0 500.0,505.0 503.0,510.0 506.0,511.0 510.0,503.0 515.0,493.0 519.0,489.0 523.0,487.0 526.0,481.0 530.0,479.0 532.0,485.0 535.0,495.0 539.0,500.0 543.0,501.0 547.0,495.0 551.0,497.0 555.0,504.0 559.0,513.0 563.0,519.0 567.0,523.0 571.0,520.0 575.0,520.4 578.0,510.0 581.0,497.0 584.0,480.0 587.0,471.0 591.0,474.0 595.0,482.0 598.0,491.0 602.0,498.0 605.0,494.0 608.0,487.0 612.0,477.0 616.0,470.0 620.0,465.0 622.0,464.0 625.0,473.0 628.0,483.0 631.0,491.0 635.0,496.0 639.0,493.0 643.0,485.0 647.0,478.0 650.0,466.4 653.0,468.0 657.0,468.4 661.0,469.0 665.0,465.0 670.0,459.0 678.0,458.4" fill="none" stroke="#0000ff" stroke-width="1" stroke-linejoin="round"/>
<polyline points="0.0,489.0 6.0,487.0 12.0,486.4 20.0,486.0 26.0,489.0 30.0,483.0 35.0,479.0 42.0,480.0 48.0,482.0 53.0,483.6 57.0,482.4 61.0,487.0 65.0,489.0 70.0,489.4 74.5,491.0 78.5,487.0 82.0,490.0 88.0,491.0 94.0,494.0 98.0,495.4 102.0,494.6 107.0,497.0 111.0,497.6 115.0,494.4 119.0,494.0 123.0,497.0 127.0,499.6 131.0,495.0 136.0,499.0 140.0,500.0 144.0,499.0 148.0,491.0 153.0,488.0 158.0,486.0 161.0,484.4 166.0,486.0 170.0,484.5 175.0,480.0 180.0,477.6 185.0,479.0 190.0,482.0 194.0,484.0 198.0,482.0 203.0,478.4 210.0,479.0 214.0,484.0 219.0,478.4 222.5,479.0 227.0,483.0 235.0,484.0 239.0,489.0 243.0,497.0 247.0,499.0 255.0,498.4 259.0,500.0 264.0,501.0 270.0,501.6 275.0,500.0 283.0,501.6 288.0,505.6 292.0,505.6 298.0,503.0 303.0,500.0 307.0,503.0 313.0,503.6 318.0,507.0 324.0,505.0 330.0,502.0 336.0,501.6 341.0,499.5 344.0,499.0 347.0,501.0 349.0,495.0 351.0,489.0 356.0,490.0 364.0,491.0 372.0,491.0 378.0,490.0 382.0,492.0 390.0,492.0 394.0,489.0 400.0,486.0 405.0,484.0 410.0,485.0 415.0,483.0 420.0,488.0 424.0,489.0 428.0,486.0 432.0,488.0 434.5,487.0 436.5,494.0 442.0,495.0 449.0,495.6 454.0,499.0 458.0,504.0 462.0,508.0 466.0,511.0 469.0,506.0 471.0,499.0 476.0,498.0 484.0,497.6 492.0,498.0 497.0,500.0 502.0,503.0 507.0,503.0 511.0,500.0 518.0,500.0 524.0,500.0 529.0,498.0 534.0,499.6 540.0,497.6 545.0,499.0 549.0,497.6 554.0,500.0 558.0,504.4 566.0,505.6 575.0,505.6 579.0,500.0 586.0,498.4 592.0,500.0 598.0,500.0 602.0,501.6 607.0,496.0 615.0,496.4 621.0,493.0 623.0,491.0 626.0,497.6 630.0,491.0 634.0,492.0 638.0,492.0 642.0,488.0 648.0,486.0 654.0,485.0 659.0,481.0 664.0,478.0 669.0,473.6 674.0,472.6 678.5,472.6" fill="none" stroke="#0b0bc8" stroke-width="2" stroke-linejoin="round"/>
</g>
<text x="863" y="464" transform="rotate(0.05 863 464)" textLength="28" lengthAdjust="spacingAndGlyphs" fill="#000" stroke="#000">0.6279</text>
<text x="862.8" y="473" transform="rotate(0.05 862.8 473)" textLength="9.3" lengthAdjust="spacingAndGlyphs" fill="#000" stroke="#000">80</text>
<text x="862.8" y="496.7" transform="rotate(0.05 862.8 496.7)" textLength="17" lengthAdjust="spacingAndGlyphs" fill="#000" stroke="#000">0.00</text>
<text x="862.8" y="515.1" transform="rotate(0.05 862.8 515.1)" textLength="9.3" lengthAdjust="spacingAndGlyphs" fill="#000" stroke="#000">20</text>
<text x="863" y="523" transform="rotate(0.05 863 523)" textLength="31" lengthAdjust="spacingAndGlyphs" fill="#000" stroke="#000">-0.5329</text>
<g shape-rendering="crispEdges" fill="#000"><rect x="860" y="493" width="2" height="1"/></g>
<rect x="862" y="472" width="11" height="10" fill="#708090" shape-rendering="crispEdges"/>
<text x="863" y="480.0" transform="rotate(0.05 863 480.0)" textLength="9.2" lengthAdjust="spacingAndGlyphs" fill="#fff" stroke="#fff">70</text>
<rect x="862" y="485" width="11" height="10" fill="#708090" shape-rendering="crispEdges"/>
<text x="863" y="493.3" transform="rotate(0.05 863 493.3)" textLength="9.2" lengthAdjust="spacingAndGlyphs" fill="#fff" stroke="#fff">50</text>
<rect x="862" y="500" width="11" height="10" fill="#708090" shape-rendering="crispEdges"/>
<text x="863" y="508.2" transform="rotate(0.05 863 508.2)" textLength="9.2" lengthAdjust="spacingAndGlyphs" fill="#fff" stroke="#fff">30</text>
<g shape-rendering="crispEdges" fill="#000">
<rect x="62" y="527" width="1" height="4"/>
<rect x="126" y="527" width="1" height="4"/>
<rect x="190" y="527" width="1" height="4"/>
<rect x="254" y="527" width="1" height="4"/>
<rect x="318" y="527" width="1" height="4"/>
<rect x="382" y="527" width="1" height="4"/>
<rect x="446" y="527" width="1" height="4"/>
<rect x="510" y="527" width="1" height="4"/>
<rect x="574" y="527" width="1" height="4"/>
<rect x="638" y="527" width="1" height="4"/>
</g>
<text x="-2.6" y="539.3" transform="rotate(0.05 -2.6 539.3)" textLength="51.5" lengthAdjust="spacingAndGlyphs" fill="#000" stroke="#000">15 Sep 2025</text>
<text x="61.7" y="539.3" transform="rotate(0.05 61.7 539.3)" textLength="54" lengthAdjust="spacingAndGlyphs" fill="#000" stroke="#000">17 Sep 21:00</text>
<text x="125.7" y="539.3" transform="rotate(0.05 125.7 539.3)" textLength="54" lengthAdjust="spacingAndGlyphs" fill="#000" stroke="#000">22 Sep 13:00</text>
<text x="189.7" y="539.3" transform="rotate(0.05 189.7 539.3)" textLength="54" lengthAdjust="spacingAndGlyphs" fill="#000" stroke="#000">25 Sep 09:00</text>
<text x="253.7" y="539.3" transform="rotate(0.05 253.7 539.3)" textLength="54" lengthAdjust="spacingAndGlyphs" fill="#000" stroke="#000">30 Sep 01:00</text>
<text x="317.7" y="539.3" transform="rotate(0.05 317.7 539.3)" textLength="48.4" lengthAdjust="spacingAndGlyphs" fill="#000" stroke="#000">2 Oct 17:00</text>
<text x="381.7" y="539.3" transform="rotate(0.05 381.7 539.3)" textLength="48.4" lengthAdjust="spacingAndGlyphs" fill="#000" stroke="#000">7 Oct 09:00</text>
<text x="445.7" y="539.3" transform="rotate(0.05 445.7 539.3)" textLength="54" lengthAdjust="spacingAndGlyphs" fill="#000" stroke="#000">10 Oct 01:00</text>
<text x="509.7" y="539.3" transform="rotate(0.05 509.7 539.3)" textLength="54" lengthAdjust="spacingAndGlyphs" fill="#000" stroke="#000">14 Oct 17:00</text>
<text x="573.7" y="539.3" transform="rotate(0.05 573.7 539.3)" textLength="54" lengthAdjust="spacingAndGlyphs" fill="#000" stroke="#000">17 Oct 09:00</text>
<text x="637.7" y="539.3" transform="rotate(0.05 637.7 539.3)" textLength="54" lengthAdjust="spacingAndGlyphs" fill="#000" stroke="#000">22 Oct 01:00</text>
</svg>
</body></html>
